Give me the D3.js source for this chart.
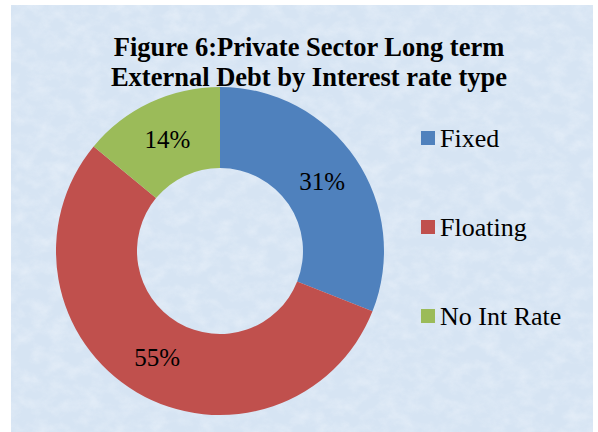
<!DOCTYPE html>
<html>
<head>
<meta charset="utf-8">
<script src="https://cdn.jsdelivr.net/npm/d3@7"></script>
<style>
  body { margin: 0; background: #fff; }
  svg { display: block; }
</style>
</head>
<body>
<svg id="chart"></svg>
<script>
const width = 598;
const height = 432;
const serif = "'Liberation Serif', 'Times New Roman', Times, serif";

const categories = ["Fixed", "Floating", "No Int Rate"];
const shares = [31, 55, 14];
const labels = ["31%", "55%", "14%"];
const colors = ["#4f81bd", "#c0504d", "#9bbb59"];
const titleLines = ["Figure 6:Private Sector Long term", "External Debt by Interest rate type"];

const svg = d3.select("#chart").attr("width", width).attr("height", height);

// textured light blue panel
const defs = svg.append("defs");
const filter = defs.append("filter").attr("id", "marble")
  .attr("x", 0).attr("y", 0).attr("width", "100%").attr("height", "100%");
filter.append("feTurbulence")
  .attr("type", "fractalNoise")
  .attr("baseFrequency", "0.06 0.08")
  .attr("numOctaves", 4)
  .attr("seed", 7)
  .attr("result", "noise");
filter.append("feColorMatrix")
  .attr("in", "noise")
  .attr("type", "matrix")
  .attr("values", "0 0 0 0 0.95  0 0 0 0 0.97  0 0 0 0 1  1.2 0 0 0 -0.45");

svg.append("rect")
  .attr("x", 11).attr("y", 5)
  .attr("width", 582).attr("height", 427)
  .attr("fill", "#d6e4f3");
svg.append("rect")
  .attr("x", 11).attr("y", 5)
  .attr("width", 582).attr("height", 427)
  .attr("fill", "#fff")
  .attr("filter", "url(#marble)")
  .attr("opacity", 0.55);

// title
svg.append("g")
  .selectAll("text")
  .data(titleLines)
  .enter()
  .append("text")
  .attr("x", 309)
  .attr("y", (d, i) => 56 + i * 30)
  .attr("text-anchor", "middle")
  .attr("font-family", serif)
  .attr("font-size", 26.5)
  .attr("font-weight", "bold")
  .attr("fill", "#000")
  .text(d => d);

// donut
const cx = 220, cy = 251;
const outerRadius = 164;
const innerRadius = 83;

const data = categories.map((c, i) => ({ name: c, value: shares[i], label: labels[i], color: colors[i] }));

const pie = d3.pie().value(d => d.value).sort(null);
const arc = d3.arc().innerRadius(innerRadius).outerRadius(outerRadius);

const g = svg.append("g").attr("transform", `translate(${cx},${cy})`);

const arcs = g.selectAll(".arc")
  .data(pie(data))
  .enter()
  .append("g")
  .attr("class", "arc");

arcs.append("path")
  .attr("d", arc)
  .attr("fill", d => d.data.color);

arcs.append("text")
  .attr("transform", d => `translate(${arc.centroid(d)})`)
  .attr("text-anchor", "middle")
  .attr("dy", "0.35em")
  .attr("font-family", serif)
  .attr("font-size", 25)
  .attr("fill", "#000")
  .text(d => d.data.label);

// legend
const legendY = d3.scalePoint().domain(categories).range([138, 316]);

const legendItems = svg.append("g")
  .selectAll(".legend-item")
  .data(data)
  .enter()
  .append("g")
  .attr("class", "legend-item")
  .attr("transform", d => `translate(421, ${legendY(d.name)})`);

legendItems.append("rect")
  .attr("x", 0)
  .attr("y", -7)
  .attr("width", 14)
  .attr("height", 14)
  .attr("fill", d => d.color);

legendItems.append("text")
  .attr("x", 19)
  .attr("y", 9)
  .attr("font-family", serif)
  .attr("font-size", 26)
  .attr("fill", "#000")
  .text(d => d.name);
</script>
</body>
</html>
